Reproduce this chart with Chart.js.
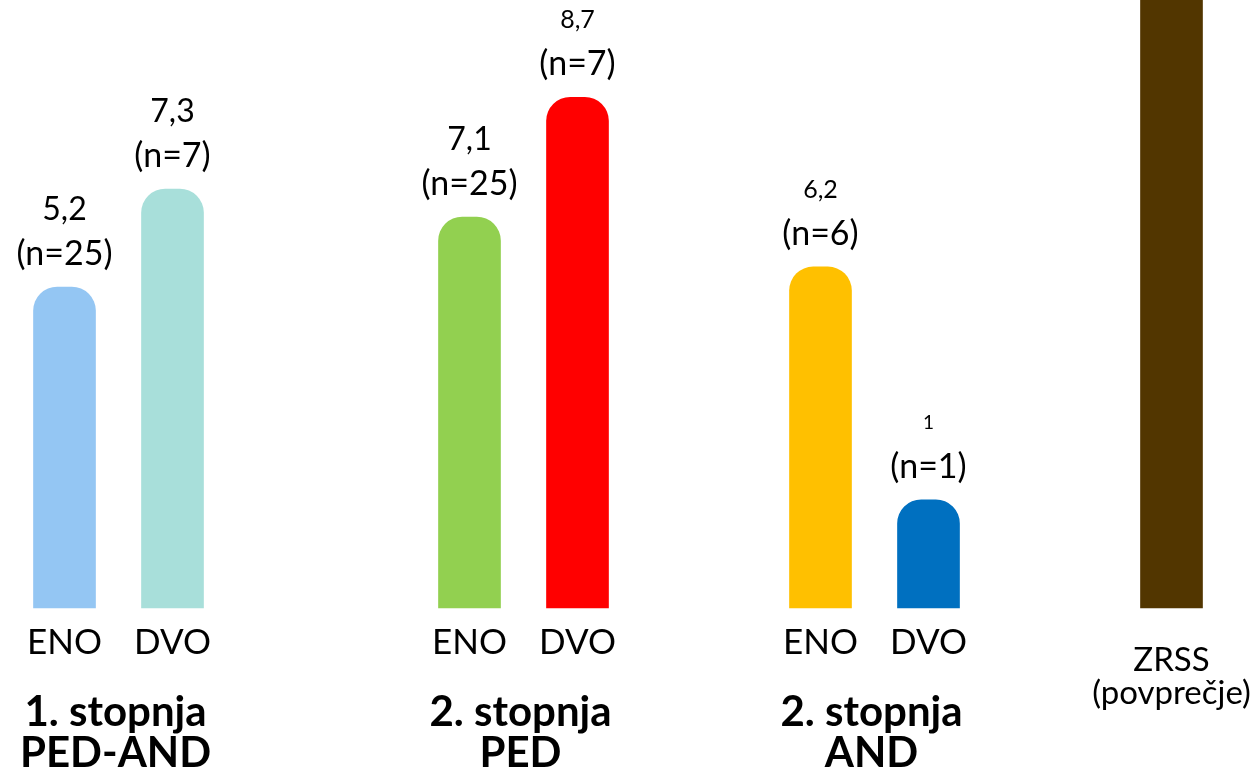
<!DOCTYPE html>
<html>
<head>
<meta charset="utf-8">
<script src="https://cdn.jsdelivr.net/npm/chart.js@4/dist/chart.umd.min.js"></script>
<style>
  html, body { margin: 0; padding: 0; background: #fff; }
  #wrap { width: 1251px; height: 770px; }
</style>
</head>
<body>
<div id="wrap"><canvas id="myChart"></canvas></div>
<script>
// data
const barLabels = ["ENO", "DVO", "ENO", "DVO", "ENO", "DVO", "ZRSS"];
const barValues = [5.28, 6.89, 6.43, 8.40, 5.61, 1.78, 11];   // bar heights as drawn
const meanLabels = ["5,2", "7,3", "7,1", "8,7", "6,2", "1", ""];
const nLabels = ["(n=25)", "(n=7)", "(n=25)", "(n=7)", "(n=6)", "(n=1)", ""];
const groupLabels = [["1. stopnja", "PED-AND"], ["2. stopnja", "PED"], ["2. stopnja", "AND"]];
const zrssLabel = ["ZRSS", "(povprečje)"];

const colors = ["#94C6F3", "#A8DFDA", "#92D050", "#FF0000", "#FFC000", "#0070C0", "#523600"];
const meanFontSize = [32, 32, 32, 25, 25, 19, 32];

// layout: which category slot each bar sits in (42 slots of equal width)
const SLOTS = 42;
const slotOf = [0, 4, 15, 19, 28, 32, 41];

const categories = new Array(SLOTS).fill("");
const values = new Array(SLOTS).fill(null);
const bg = new Array(SLOTS).fill("transparent");
slotOf.forEach((s, i) => {
    categories[s] = barLabels[i];
    values[s] = barValues[i];
    bg[s] = colors[i];
});

const FONT = "Lato, 'Open Sans', sans-serif";

const labelPlugin = {
    id: "labels",
    afterDatasetsDraw(chart) {
        const ctx = chart.ctx;
        const meta = chart.getDatasetMeta(0);
        const bottom = chart.chartArea.bottom;
        ctx.save();
        ctx.fillStyle = "#000";
        ctx.textAlign = "center";
        ctx.textBaseline = "middle";
        const xs = slotOf.map(s => meta.data[s].x);
        const tops = slotOf.map(s => meta.data[s].y);

        slotOf.forEach((s, i) => {
            const x = xs[i];
            if (barLabels[i] === "ZRSS") {
                ctx.font = "33px " + FONT;
                ctx.fillText(zrssLabel[0], x, bottom + 52);
                ctx.fillText(zrssLabel[1], x, bottom + 85);
                return;
            }
            ctx.font = "35px " + FONT;
            ctx.fillText(barLabels[i], x, bottom + 35);
            const top = tops[i];
            ctx.font = "34px " + FONT;
            ctx.fillText(nLabels[i], x, top - 33);
            ctx.font = meanFontSize[i] + "px " + FONT;
            ctx.fillText(meanLabels[i], x, top - 77);
        });

        ctx.font = "bold 42px " + FONT;
        groupLabels.forEach((g, gi) => {
            const x = (xs[gi * 2] + xs[gi * 2 + 1]) / 2 - 3;
            ctx.fillText(g[0], x, bottom + 104);
            ctx.fillText(g[1], x, bottom + 145);
        });
        ctx.restore();
    }
};

const ctx = document.getElementById("myChart").getContext("2d");
const myChart = new Chart(ctx, {
    type: "bar",
    data: {
        labels: categories,
        datasets: [
            {
                data: values,
                backgroundColor: bg,
                barThickness: 62,
                borderRadius: { topLeft: 24, topRight: 24 },
                borderSkipped: "start",
                clip: false,
            },
        ],
    },
    options: {
        responsive: true,
        maintainAspectRatio: false,
        animation: false,
        layout: { padding: { left: 51, right: 66, top: 0, bottom: 162 } },
        plugins: {
            legend: { display: false },
            tooltip: { enabled: false },
        },
        scales: {
            x: { display: false, grid: { display: false } },
            y: { display: false, min: 0, max: 10 },
        },
    },
    plugins: [labelPlugin],
});
</script>
</body>
</html>
